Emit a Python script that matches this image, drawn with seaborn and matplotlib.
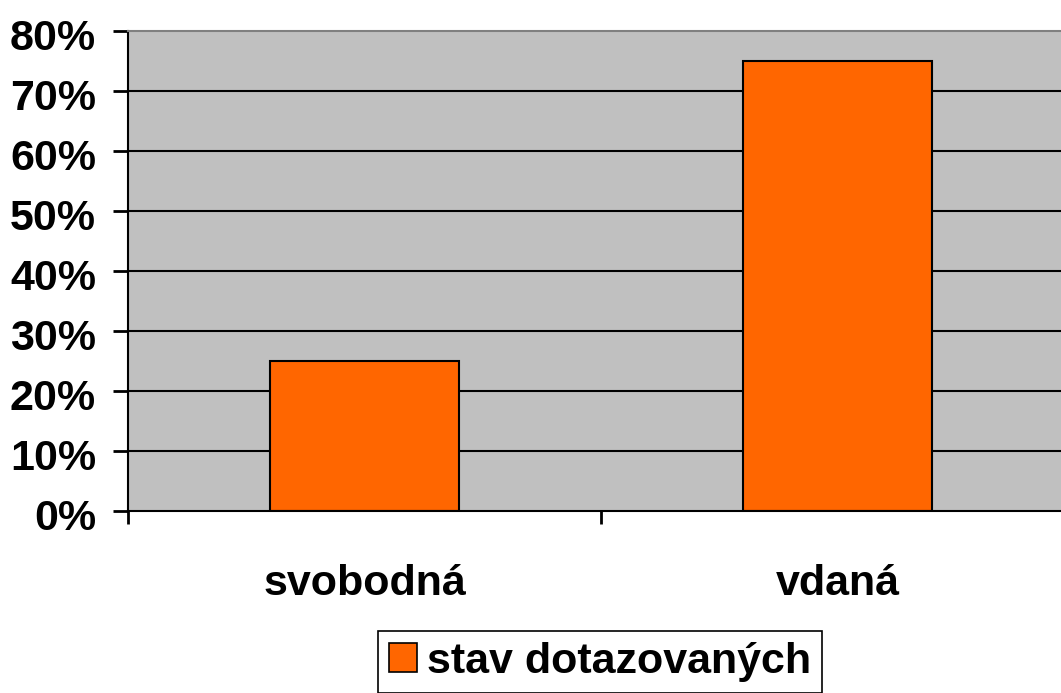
import matplotlib
matplotlib.use("Agg")
import matplotlib.pyplot as plt
import matplotlib.transforms as mtransforms
import seaborn as sns
import pandas as pd
from matplotlib.patches import Patch

categories = ["svobodná", "vdaná"]
values = [25, 75]
series_name = "stav dotazovaných"
yticks = [0, 10, 20, 30, 40, 50, 60, 70, 80]

sns.set_style("white")
plt.rcParams['font.family'] = ['Liberation Sans', 'DejaVu Sans']
plt.rcParams['text.color'] = 'black'
plt.rcParams['xtick.color'] = 'black'
plt.rcParams['ytick.color'] = 'black'
plt.rcParams['ytick.left'] = True
plt.rcParams['xtick.bottom'] = True

FS = 31
W, H = 1061, 693
fig = plt.figure(figsize=(W / 100, H / 100), dpi=100)
ax = fig.add_axes([128 / W, (H - 511) / H, (1074 - 128) / W, (511 - 31) / H])
ax.set_facecolor("#C0C0C0")

df = pd.DataFrame({"cat": categories, "val": values})
sns.barplot(data=df, x="cat", y="val", color="#FF6600", width=0.4,
            edgecolor="black", linewidth=1.5, saturation=1, ax=ax, zorder=3)

ax.set_ylim(0, 80)
ax.set_xlim(-0.5, 1.5)
ax.set_yticks(yticks)
ax.set_yticklabels([f"{v}%" for v in yticks])
for v in yticks[1:-1]:
    ax.axhline(v, color="black", lw=1.5, zorder=1)

ax.set_xlabel("")
ax.set_ylabel("")
ax.yaxis.set_ticks_position("left")
ax.set_xticks([-0.5, 0.5, 1.5], minor=True)
ax.tick_params(axis="x", which="major", bottom=True, length=0, pad=38, labelsize=FS, labelcolor="black")
ax.tick_params(axis="x", which="minor", bottom=True, length=9, width=2, color="black", direction="out")
ax.tick_params(axis="y", which="major", left=True, length=11, width=2, color="black", direction="out",
               pad=12, labelsize=FS, labelcolor="black")
offset = mtransforms.ScaledTranslation(0, -4 / 100, fig.dpi_scale_trans)
for lbl in ax.get_yticklabels():
    lbl.set_fontweight("bold")
    lbl.set_transform(lbl.get_transform() + offset)
for lbl in ax.get_xticklabels():
    lbl.set_fontweight("bold")

ax.spines["left"].set_color("black")
ax.spines["left"].set_linewidth(1.5)
ax.spines["bottom"].set_color("black")
ax.spines["bottom"].set_linewidth(1.5)
ax.spines["top"].set_color("#808080")
ax.spines["top"].set_linewidth(1.5)
ax.spines["right"].set_visible(False)
for s in ax.spines.values():
    s.set_zorder(4)

handle = Patch(facecolor="#FF6600", edgecolor="black", linewidth=1.2, label=series_name)
leg = fig.legend(handles=[handle], loc="upper center", bbox_to_anchor=(600 / W, (H - 631) / H),
                 frameon=True, fancybox=False, edgecolor="black", framealpha=1,
                 prop={"size": FS, "weight": "bold"}, handlelength=0.65, handleheight=0.65,
                 handletextpad=0.25, borderpad=0.25, borderaxespad=0)
leg.get_frame().set_linewidth(1.2)
for t in leg.get_texts():
    t.set_color("black")

fig.savefig("out.png", dpi=100)
